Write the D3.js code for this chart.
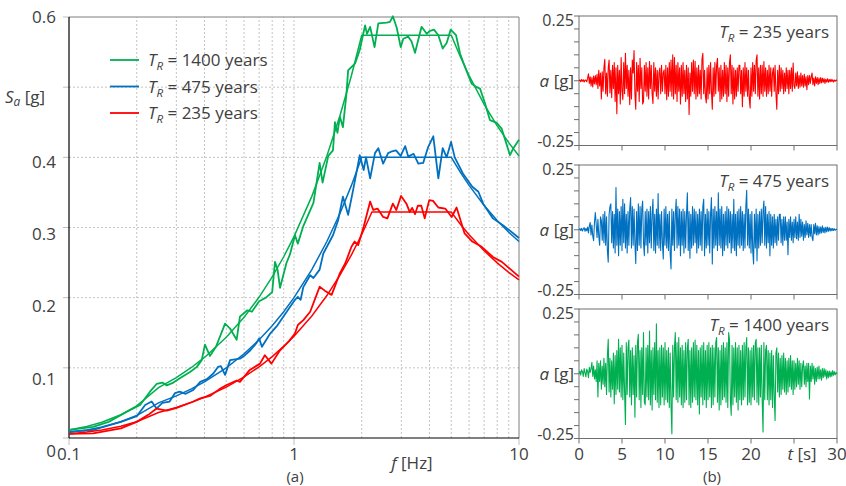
<!DOCTYPE html>
<html>
<head>
<meta charset="utf-8">
<script src="https://cdn.jsdelivr.net/npm/d3@7"></script>
<style>
  body { margin: 0; background: #fff; }
  svg { font-family: 'Open Sans', sans-serif; }
  text { fill: #404040; }
</style>
</head>
<body>
<svg id="chart" width="846" height="486"></svg>
<script>
// ---- (a) response spectra: target (smooth) curves ----
const targetFreq = [0.1, 0.12, 0.14, 0.17, 0.2, 0.25, 0.3, 0.35, 0.4, 0.5, 0.6, 0.7, 0.8, 0.9, 1, 1.2, 1.4, 1.6, 1.8, 2, 2.22, 5, 5.5, 6, 7, 8, 9, 10];
const target1400 = [0.0115, 0.0165, 0.0225, 0.0332, 0.0459, 0.0718, 0.0861, 0.1005, 0.1148, 0.1435, 0.1722, 0.2009, 0.2296, 0.2583, 0.287, 0.3444, 0.4018, 0.4592, 0.5166, 0.574, 0.574, 0.574, 0.5427, 0.5166, 0.4756, 0.4449, 0.4209, 0.4018];
const target475 = [0.008, 0.0115, 0.0157, 0.0231, 0.032, 0.05, 0.06, 0.07, 0.08, 0.1, 0.12, 0.14, 0.16, 0.18, 0.2, 0.24, 0.28, 0.32, 0.36, 0.4, 0.4, 0.4, 0.3782, 0.36, 0.3314, 0.31, 0.2933, 0.28];
const target235 = [0.0058, 0.0084, 0.0114, 0.0168, 0.0232, 0.0363, 0.0435, 0.0508, 0.058, 0.0725, 0.087, 0.1015, 0.116, 0.1305, 0.145, 0.174, 0.203, 0.232, 0.261, 0.29, 0.322, 0.322, 0.3044, 0.2898, 0.2668, 0.2496, 0.2361, 0.2254];

// ---- (a) response spectra of the generated records [f, Sa] ----
const spec1400 = [[0.1,.0115],[0.128,.016],[0.15,.023],[0.18,.037],[0.207,.047],[0.229,.066],[0.245,.077],[0.26,.079],[0.272,.075],[0.291,.079],[0.311,.085],[0.345,.094],[0.369,.101],[0.389,.111],[0.402,.133],[0.423,.117],[0.45,.13],[0.494,.163],[0.52,.156],[0.556,.14],[0.575,.173],[0.62,.182],[0.65,.18],[0.7,.195],[0.75,.2],[0.8,.208],[0.823,.251],[0.845,.24],[0.867,.214],[0.925,.249],[0.96,.262],[1.01,.289],[1.04,.277],[1.1,.302],[1.22,.335],[1.3,.392],[1.34,.364],[1.42,.402],[1.49,.41],[1.52,.45],[1.56,.435],[1.6,.458],[1.65,.443],[1.71,.49],[1.74,.524],[1.87,.534],[1.96,.553],[2.07,.588],[2.11,.576],[2.18,.586],[2.28,.557],[2.37,.591],[2.58,.592],[2.67,.593],[2.75,.601],[2.86,.585],[2.98,.557],[3.06,.569],[3.22,.572],[3.33,.565],[3.45,.549],[3.69,.586],[3.89,.576],[4.0,.58],[4.19,.582],[4.38,.574],[4.58,.555],[4.77,.563],[4.97,.582],[5.25,.574],[5.47,.548],[5.75,.529],[6.16,.505],[6.49,.5],[6.71,.498],[7.06,.477],[7.43,.453],[7.96,.449],[8.37,.441],[9.12,.403],[9.44,.413],[10,.425]];
const spec475 = [[0.1,.009],[0.128,.0114],[0.17,.023],[0.2,.031],[0.218,.047],[0.233,.052],[0.245,.042],[0.26,.05],[0.28,.052],[0.296,.064],[0.31,.066],[0.33,.063],[0.355,.068],[0.383,.08],[0.41,.084],[0.438,.092],[0.46,.1015],[0.473,.1025],[0.494,.09],[0.52,.111],[0.575,.113],[0.595,.116],[0.64,.125],[0.68,.135],[0.7,.142],[0.72,.13],[0.78,.148],[0.837,.159],[0.92,.178],[1.01,.197],[1.04,.201],[1.07,.197],[1.1,.215],[1.18,.232],[1.22,.228],[1.3,.24],[1.35,.263],[1.49,.289],[1.57,.31],[1.65,.344],[1.74,.318],[1.83,.353],[1.96,.403],[2.04,.382],[2.09,.4],[2.18,.37],[2.29,.406],[2.37,.413],[2.49,.391],[2.62,.406],[2.7,.408],[2.84,.41],[2.98,.402],[3.12,.416],[3.22,.401],[3.4,.405],[3.57,.391],[3.75,.392],[3.95,.415],[4.16,.43],[4.38,.37],[4.58,.413],[4.77,.4],[4.99,.422],[5.18,.4],[5.63,.377],[6.2,.358],[6.6,.351],[6.93,.334],[7.66,.313],[8.51,.303],[10,.285]];
const spec235 = [[0.1,.006],[0.128,.0067],[0.17,.0138],[0.2,.023],[0.225,.033],[0.245,.042],[0.272,.039],[0.301,.043],[0.357,.052],[0.383,.0565],[0.423,.06],[0.468,.07],[0.502,.0755],[0.556,.082],[0.575,.08],[0.636,.097],[0.706,.106],[0.742,.118],[0.794,.106],[0.867,.125],[0.95,.138],[1.01,.149],[1.04,.161],[1.1,.168],[1.18,.18],[1.26,.204],[1.3,.2155],[1.37,.21],[1.47,.204],[1.6,.235],[1.69,.249],[1.8,.2725],[1.86,.28],[1.93,.275],[2.04,.301],[2.18,.337],[2.25,.325],[2.35,.327],[2.49,.315],[2.6,.313],[2.75,.334],[2.85,.325],[2.99,.345],[3.16,.334],[3.27,.322],[3.35,.328],[3.45,.319],[3.55,.331],[3.68,.331],[3.81,.313],[3.99,.339],[4.15,.338],[4.38,.3285],[4.7,.327],[5.02,.315],[5.28,.3285],[5.73,.2915],[6.2,.28],[6.83,.2725],[7.66,.258],[8.39,.251],[10,.23]];

// ---- (b) acceleration time histories, 0 to 30 s [g] ----
const accel235 = [
  0, .003, -.004, .005, -.002, .004, -.005, .003, .002, -.004,
  .01, .027, -.01, .015, -.02, .012, -.024, .018, -.012, .02,
  -.015, .025, -.03, .04, -.02, .03, -.07, .035, -.04, .05,
  .083, -.05, .03, -.06, .05, .08, -.047, .04, -.065, .06,
  -.03, .07, -.08, .05, -.127, .06, -.05, .04, -.09, .09,
  -.04, -.073, .07, -.05, .106, -.03, .06, -.06, .04, -.092,
  .05, -.07, .08, .03, .117, -.05, -.11, .07, -.04, .06,
  -.08, .087, -.03, .05, -.09, -.08, .06, -.04, .07, -.06,
  .05, -.07, .074, -.03, .06, -.05, -.088, .07, -.04, .05,
  -.06, .04, -.07, .03, .049, -.05, .06, -.04, .03, .042,
  -.05, .06, -.073, .05, -.06, .07, -.04, .08, -.06, .1,
  -.07, .09, -.05, .06, -.08, .07, -.04, .05, -.09, .06,
  -.06, .07, -.05, .04, -.08, .06, -.07, .05, -.13, .03,
  -.06, .07, -.04, .08, -.05, .075, -.07, .05, -.06, .06,
  -.05, .04, -.07, .083, .106, -.05, .04, -.06, -.086, .05,
  -.07, .06, -.05, .07, -.04, -.11, .05, -.06, .07, -.05,
  .06, .087, -.04, .05, -.08, .06, -.07, .04, -.06, .07,
  -.05, .06, -.08, .05, -.06, .07, .1, -.05, .06, -.09,
  .05, -.07, .04, -.06, .05, -.04, .06, .06, -.05, .04,
  -.1, .05, -.06, .07, -.04, .05, -.06, .04, -.07, -.105,
  .05, -.06, .07, -.04, .06, -.05, .08, .1, -.06, .05,
  -.07, .06, -.05, .06, -.06, .074, -.04, .05, -.06, .04,
  -.05, .06, -.04, .05, -.06, .03, .05, -.04, .06, -.05,
  -.11, .04, -.05, .06, -.04, .05, -.03, .04, -.05, .03,
  -.04, .05, -.03, .04, -.05, .04, -.03, .05, -.04, .068,
  -.02, -.03, .03, -.02, .035, -.03, .02, -.025, .03, -.02,
  .02, -.025, .025, -.02, .015, -.035, .02, -.015, .02, -.01,
  .015, .03, -.015, .01, -.02, .015, -.01, .012, -.015, .01,
  -.01, .012, -.008, .01, -.006, .008, -.01, .006, -.005, .008,
  -.006, .005, -.004, .006, -.003, .004, -.005, .003, -.002, .003,
  0];
const accel475 = [
  0, .004, -.003, .006, -.005, .003, .008, -.006, .005, -.004,
  .01, -.012, .015, .028, -.02, .018, -.025, -.042, .03, .066,
  .02, -.03, .04, -.025, -.06, .05, .035, -.04, .06, -.05,
  .07, -.06, .05, -.08, -.125, .06, .09, .1, -.05, .07,
  -.07, .06, -.09, .163, -.06, .08, -.1, .07, -.06, .09,
  -.08, .118, -.05, .1, -.07, .06, -.09, .07, -.06, .08,
  .124, -.07, .09, -.06, .08, -.05, -.13, .07, -.08, .1,
  -.06, .09, -.07, .08, .111, -.05, -.1, .07, -.06, .08,
  -.09, .07, -.05, .09, -.07, .06, .118, -.08, .06, -.09,
  .08, -.06, .14, -.07, .06, -.08, .07, -.05, -.113, .08,
  -.06, .09, -.07, .06, -.08, .07, -.09, -.151, .08, -.06,
  .07, -.08, .06, .118, -.07, .09, -.06, .08, -.1, .07,
  -.06, .08, -.09, .07, -.07, .06, .143, -.08, .07, -.11,
  .06, -.07, .09, -.06, .08, -.05, .07, -.09, .06, -.07,
  .08, -.06, .07, -.08, .09, .118, -.1, .06, -.07, .08,
  -.06, .07, -.09, .06, .124, -.132, .08, -.07, .09, -.06,
  .07, -.08, .143, -.06, .08, -.07, .09, -.1, .06, -.08,
  .07, -.06, .09, -.07, .08, -.05, .07, -.09, .06, -.07,
  .118, -.08, .06, -.1, .07, -.06, .08, -.07, .09, -.06,
  .07, -.08, .06, -.07, .09, .152, -.06, .08, -.07, .06,
  -.09, .07, -.08, -.132, .06, -.07, .08, -.12, .06, -.07,
  .07, -.06, .08, -.05, .07, .111, -.06, .09, -.07, .06,
  -.05, .07, -.1, .06, -.06, .05, -.07, .06, -.05, .04,
  -.06, .05, -.04, .06, .06, -.05, .04, -.06, .05, -.04,
  .05, -.04, .03, -.096, .04, -.03, .05, -.04, .03, -.05,
  .04, -.03, .05, -.035, .03, -.04, .06, -.03, .04, -.025,
  .03, -.04, .02, -.03, .035, -.02, .025, -.03, .02, -.025,
  .02, -.03, -.042, .02, -.015, .025, -.02, .015, -.02, .012,
  -.015, .01, -.012, .015, -.01, .008, -.012, .01, -.008, .01,
  -.006, .008, -.005, .006, -.004, .005, -.003, .004, -.002, .002,
  0];
const accel1400 = [
  0, .01, -.005, .015, .008, -.01, .02, .005, -.012, .018,
  .01, -.015, .025, .005, .02, .044, -.01, .03, -.02, .015,
  -.03, .05, -.09, .04, -.03, .05, -.06, .03, -.04, .06,
  -.05, .04, -.08, .07, .133, -.07, .06, -.09, .05, -.06,
  .08, -.116, .07, -.08, .09, -.06, .133, -.07, .1, -.09,
  .11, -.1, .08, -.07, -.196, .12, -.08, .1, .13, -.09,
  .09, -.12, .1, -.08, .07, -.168, .11, -.09, .12, .152,
  -.1, .09, -.13, .1, -.08, .159, -.11, -.12, .1, -.09,
  .11, -.1, .165, -.12, .09, -.14, .1, -.08, .12, -.1,
  .193, -.11, .09, -.13, .1, -.12, .11, -.09, .1, -.12,
  .12, -.1, .09, -.11, .1, -.13, .08, -.12, -.232, .11,
  -.09, .1, .159, -.1, .12, -.11, .14, -.09, .1, -.12,
  .11, -.13, .09, -.11, .12, -.1, .1, .133, -.12, .09,
  -.13, .1, -.11, .12, -.09, .13, -.1, .11, -.12, .09,
  -.155, .1, -.09, .11, -.12, .12, -.1, .09, -.13, .11,
  -.1, .12, -.09, .1, -.13, .11, -.12, .1, -.09, .12,
  .14, -.11, .1, -.14, .09, -.12, .11, -.1, .12, -.09,
  .1, -.11, .12, -.13, .159, .13, -.1, -.16, .11, -.12,
  .1, -.09, .12, -.11, .1, -.14, .11, -.1, .09, -.12,
  .11, -.1, .12, -.09, .1, .14, -.12, .1, -.11, .09,
  -.12, .1, -.09, .11, -.1, .12, .133, -.11, .1, -.12,
  .1, -.09, .11, -.1, -.225, .12, -.1, .09, .11, -.1,
  .09, -.12, .08, -.1, .09, -.13, .07, -.09, -.18, .08,
  .1, -.07, .08, -.09, .06, -.08, .07, -.06, .08, -.07,
  .06, -.08, .05, -.07, .06, -.05, .07, -.06, .05, -.08,
  .05, -.06, .04, -.05, .06, -.04, .05, -.06, .04, -.05,
  .03, .05, -.04, .03, -.05, .04, -.03, .04, -.097, .03,
  -.03, .04, -.02, .03, -.04, .02, -.03, .025, -.02, .03,
  -.02, .015, -.025, .02, -.015, .02, -.01, .015, -.02, .01,
  -.015, .01, -.012, .008, -.01, .012, -.006, .008, -.004, .005,
  0];

// ---- ticks ----
const saTicks = [0, 0.1, 0.2, 0.3, 0.4, 0.6];
const saGrid = [0.1, 0.2, 0.3, 0.4, 0.5];
const freqLabels = [0.1, 1, 10];
const accelTicks = [-0.25, -0.2, -0.15, -0.1, -0.05, 0, 0.05, 0.1, 0.15, 0.2, 0.25];
const timeTicks = [0, 5, 10, 15, 20, 25, 30];

const colors = { '1400': '#00b050', '475': '#0070c0', '235': '#ff0000' };
const FS = 17;

const svg = d3.select('#chart');

function trText(sel, years) {
  sel.append('tspan').attr('font-style', 'italic').text('T');
  sel.append('tspan').attr('font-style', 'italic').attr('font-size', '0.68em').attr('dy', 4).text('R');
  sel.append('tspan').attr('dy', -4).text(` = ${years} years`);
}

// ================= (a) =================
const fx = d3.scaleLog().domain([0.1, 10]).range([69, 519]);
const sy = d3.scaleLinear().domain([0, 0.6]).range([438, 17]);
const labelY = d3.scaleLinear().domain([0, 0.6]).range([451, 17]);

const gA = svg.append('g');

gA.selectAll('.vgrid')
  .data(fx.ticks().filter(f => f > 0.1 && f < 10))
  .join('line')
  .attr('x1', d => fx(d)).attr('x2', d => fx(d))
  .attr('y1', sy(0)).attr('y2', sy(0.6))
  .attr('stroke', '#c4c4c4').attr('stroke-dasharray', '2,2');

gA.selectAll('.hgrid')
  .data(saGrid)
  .join('line')
  .attr('x1', fx(0.1)).attr('x2', fx(10))
  .attr('y1', d => sy(d)).attr('y2', d => sy(d))
  .attr('stroke', '#c4c4c4').attr('stroke-dasharray', '2,2');

// frame
gA.append('path')
  .attr('d', `M${fx(0.1)},${sy(0.6)}H${fx(10)}V${sy(0)}`)
  .attr('fill', 'none').attr('stroke', '#7f7f7f');

// y ticks
gA.selectAll('.ytick')
  .data([0, 0.1, 0.2, 0.3, 0.4, 0.5, 0.6])
  .join('line')
  .attr('x1', fx(0.1) - 6).attr('x2', fx(0.1))
  .attr('y1', d => sy(d)).attr('y2', d => sy(d))
  .attr('stroke', '#bfbfbf');

gA.selectAll('.xtick')
  .data(freqLabels)
  .join('line')
  .attr('x1', d => fx(d)).attr('x2', d => fx(d))
  .attr('y1', sy(0)).attr('y2', sy(0) + 7)
  .attr('stroke', '#bfbfbf');

gA.append('line')
  .attr('x1', fx(0.1)).attr('x2', fx(0.1)).attr('y1', sy(0)).attr('y2', sy(0.6))
  .attr('stroke', '#000').attr('stroke-width', 1.2);
gA.append('line')
  .attr('x1', fx(0.1)).attr('x2', fx(10)).attr('y1', sy(0)).attr('y2', sy(0))
  .attr('stroke', '#000').attr('stroke-width', 1.2);

gA.selectAll('.ylab')
  .data(saTicks)
  .join('text')
  .attr('x', 56).attr('y', d => labelY(d) + 6)
  .attr('text-anchor', 'end').attr('font-size', FS)
  .text(d => d3.format('~g')(d));

gA.selectAll('.xlab')
  .data(freqLabels)
  .join('text')
  .attr('x', d => fx(d)).attr('y', 460)
  .attr('text-anchor', 'middle').attr('font-size', FS)
  .text(d => d);

const saLab = gA.append('text').attr('x', 5).attr('y', 103).attr('font-size', FS);
saLab.append('tspan').attr('font-style', 'italic').text('S');
saLab.append('tspan').attr('font-style', 'italic').attr('font-size', '0.7em').attr('dy', 3).text('a');
saLab.append('tspan').attr('dy', -3).text(' [g]');

const fLab = gA.append('text').attr('x', 412).attr('y', 469).attr('text-anchor', 'middle').attr('font-size', FS);
fLab.append('tspan').attr('font-style', 'italic').text('f');
fLab.append('tspan').text(' [Hz]');

gA.append('text').attr('x', 295).attr('y', 482).attr('text-anchor', 'middle').attr('font-size', 15).text('(a)');

const specLine = d3.line().x(d => fx(d[0])).y(d => sy(d[1]));

const spectra = [
  { key: '1400', spec: spec1400, target: target1400 },
  { key: '475', spec: spec475, target: target475 },
  { key: '235', spec: spec235, target: target235 },
];

spectra.forEach(s => {
  gA.append('path')
    .datum(targetFreq.map((f, i) => [f, s.target[i]]))
    .attr('d', specLine)
    .attr('fill', 'none').attr('stroke', colors[s.key]).attr('stroke-width', 1.5);
  gA.append('path')
    .datum(s.spec)
    .attr('d', specLine)
    .attr('fill', 'none').attr('stroke', colors[s.key]).attr('stroke-width', 1.8)
    .attr('stroke-linejoin', 'round');
});

// legend
const legend = gA.append('g');
spectra.forEach((s, i) => {
  const yy = 60 + i * 26.5;
  legend.append('line')
    .attr('x1', 110).attr('x2', 139).attr('y1', yy).attr('y2', yy)
    .attr('stroke', colors[s.key]).attr('stroke-width', 1.8);
  legend.append('text')
    .attr('x', 148).attr('y', yy + 6).attr('font-size', FS)
    .call(trText, s.key);
});

// ================= (b) =================
const tx = d3.scaleLinear().domain([0, 30]).range([579, 837]);
const panels = [
  { key: '235', data: accel235, top: 16 },
  { key: '475', data: accel475, top: 165 },
  { key: '1400', data: accel1400, top: 309 },
];
const panelH = 129.5;

panels.forEach((p, pi) => {
  const ay = d3.scaleLinear().domain([-0.25, 0.25]).range([p.top + panelH, p.top]);
  const g = svg.append('g');

  g.append('rect')
    .attr('x', tx(0)).attr('y', p.top)
    .attr('width', tx(30) - tx(0)).attr('height', panelH)
    .attr('fill', 'none').attr('stroke', '#6f6f6f');

  g.selectAll('.aytick')
    .data(accelTicks)
    .join('line')
    .attr('x1', tx(0) - 5).attr('x2', tx(0))
    .attr('y1', d => ay(d)).attr('y2', d => ay(d))
    .attr('stroke', '#6f6f6f');

  g.selectAll('.txtick')
    .data(timeTicks)
    .join('line')
    .attr('x1', d => tx(d)).attr('x2', d => tx(d))
    .attr('y1', p.top + panelH).attr('y2', p.top + panelH + 5)
    .attr('stroke', '#6f6f6f');

  const dt = 30 / (p.data.length - 1);
  g.append('path')
    .datum(p.data)
    .attr('d', d3.line().x((d, i) => tx(i * dt)).y(d => ay(d)))
    .attr('fill', 'none').attr('stroke', colors[p.key]).attr('stroke-width', 1.1)
    .attr('stroke-linejoin', 'round');

  g.append('text')
    .attr('x', 574).attr('y', ay(0.25) + 10)
    .attr('text-anchor', 'end').attr('font-size', 16).text('0.25');
  g.append('text')
    .attr('x', 574).attr('y', ay(-0.25) + 1.5)
    .attr('text-anchor', 'end').attr('font-size', 16).text('-0.25');
  const aLab = g.append('text')
    .attr('x', 574).attr('y', ay(0) + 6)
    .attr('text-anchor', 'end').attr('font-size', FS);
  aLab.append('tspan').attr('font-style', 'italic').text('a');
  aLab.append('tspan').text(' [g]');

  g.append('text')
    .attr('x', 829).attr('y', p.top + 22)
    .attr('text-anchor', 'end').attr('font-size', FS)
    .call(trText, p.key);

  if (pi === panels.length - 1) {
    g.selectAll('.tlab')
      .data(timeTicks)
      .join('text')
      .attr('x', d => tx(d)).attr('y', p.top + panelH + 21)
      .attr('text-anchor', 'middle').attr('font-size', FS)
      .each(function (d) {
        const t = d3.select(this);
        if (d === 25) {
          t.attr('x', tx(d) + 8);
          t.append('tspan').attr('font-style', 'italic').text('t');
          t.append('tspan').text(' [s]');
        } else {
          t.text(d);
        }
      });
  }
});

svg.append('text').attr('x', 712).attr('y', 482).attr('text-anchor', 'middle').attr('font-size', 15).text('(b)');
</script>
</body>
</html>
